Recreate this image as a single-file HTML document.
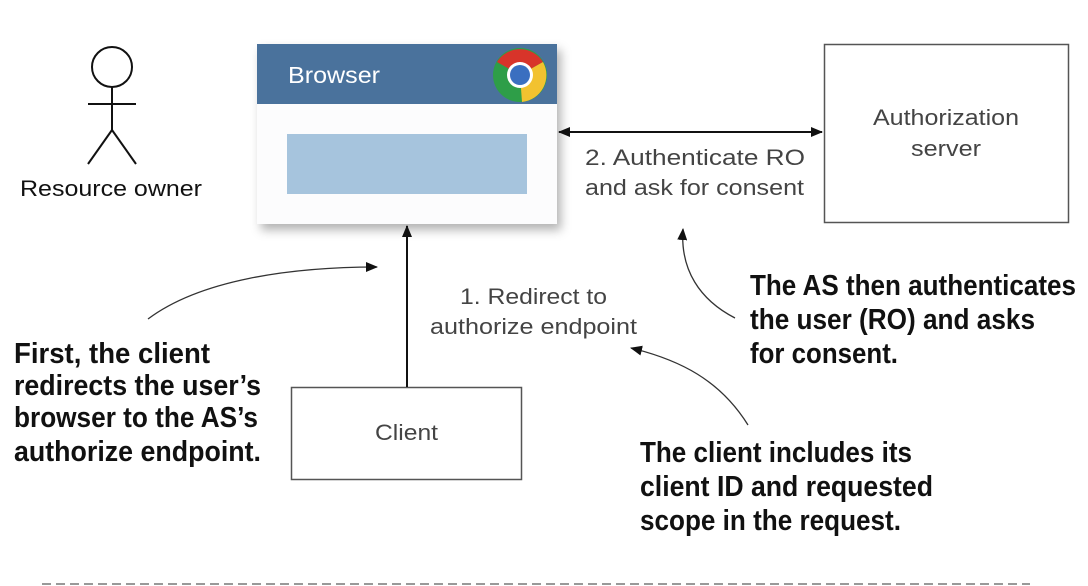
<!DOCTYPE html>
<html><head><meta charset="utf-8"><style>
html,body{margin:0;padding:0;background:#fff;}
svg{display:block;}
.n{font-family:"Liberation Sans",sans-serif;font-size:22px;fill:#444;}
.b{font-family:"Liberation Sans",sans-serif;font-size:29px;font-weight:bold;fill:#111;}
</style></head><body>
<svg width="1088" height="586" viewBox="0 0 1088 586" xmlns="http://www.w3.org/2000/svg">
<defs>
<marker id="a" markerWidth="12" markerHeight="10" refX="11" refY="5" orient="auto" markerUnits="userSpaceOnUse"><path d="M0,0 L12,5 L0,10 Z" fill="#111"/></marker>
<marker id="as" markerWidth="12" markerHeight="10" refX="1" refY="5" orient="auto" markerUnits="userSpaceOnUse"><path d="M12,0 L0,5 L12,10 Z" fill="#111"/></marker>
<filter id="sh" x="-10%" y="-10%" width="130%" height="130%"><feDropShadow dx="4" dy="6" stdDeviation="5" flood-color="#000" flood-opacity="0.3"/></filter>
</defs>
<g stroke="#111" stroke-width="2" fill="none">
<circle cx="112" cy="67" r="20"/>
<line x1="112" y1="87" x2="112" y2="130"/>
<line x1="88" y1="104" x2="136" y2="104"/>
<line x1="112" y1="130" x2="88" y2="164"/>
<line x1="112" y1="130" x2="136" y2="164"/>
</g>
<text class="n" x="20" y="196" style="fill:#111" textLength="182" lengthAdjust="spacingAndGlyphs">Resource owner</text>
<rect x="257" y="44" width="300" height="180" fill="#fcfcfd" filter="url(#sh)"/>
<rect x="257" y="44" width="300" height="60" fill="#4a729c"/>
<text x="288" y="83" font-family="Liberation Sans,sans-serif" font-size="23" fill="#fff" textLength="92" lengthAdjust="spacingAndGlyphs">Browser</text>
<rect x="287" y="134" width="240" height="60" fill="#a6c4dd"/>
<g transform="translate(520,75)">
<circle r="27" fill="#2e9e48"/>
<path d="M0,0 L-23,-13 A27,27 0 0 1 23,-13 Z" fill="#d8342a"/>
<path d="M0,0 L23,-13 A27,27 0 0 1 2,27 Z" fill="#f2c230"/>
<circle r="13" fill="#fff"/><circle r="10" fill="#3a6fc0"/>
</g>
<rect x="824.5" y="44.5" width="244" height="178" fill="#fff" stroke="#555" stroke-width="1.5"/>
<text class="n" x="873" y="125" textLength="146" lengthAdjust="spacingAndGlyphs">Authorization</text>
<text class="n" x="911" y="156" textLength="70" lengthAdjust="spacingAndGlyphs">server</text>
<rect x="291.5" y="387.5" width="230" height="92" fill="#fff" stroke="#555" stroke-width="1.5"/>
<text class="n" x="375" y="440" textLength="63" lengthAdjust="spacingAndGlyphs">Client</text>
<line x1="407" y1="387" x2="407" y2="226" stroke="#111" stroke-width="2" marker-end="url(#a)"/>
<line x1="559" y1="132" x2="822" y2="132" stroke="#111" stroke-width="2" marker-start="url(#as)" marker-end="url(#a)"/>
<text class="n" x="585" y="165" textLength="220" lengthAdjust="spacingAndGlyphs">2. Authenticate RO</text>
<text class="n" x="585" y="195" textLength="219" lengthAdjust="spacingAndGlyphs">and ask for consent</text>
<text class="n" x="460" y="304" textLength="147" lengthAdjust="spacingAndGlyphs">1. Redirect to</text>
<text class="n" x="430" y="334" textLength="207" lengthAdjust="spacingAndGlyphs">authorize endpoint</text>
<g stroke="#333" stroke-width="1.3" fill="none">
<path d="M148,319 C200,280 290,267 377,267" marker-end="url(#a)"/>
<path d="M735,318 C700,300 680,270 683,229" marker-end="url(#a)"/>
<path d="M748,425 C720,380 680,360 631,348" marker-end="url(#a)"/>
</g>
<text class="b" x="14" y="363" textLength="196" lengthAdjust="spacingAndGlyphs">First, the client</text>
<text class="b" x="14" y="395" textLength="247" lengthAdjust="spacingAndGlyphs">redirects the user’s</text>
<text class="b" x="14" y="427" textLength="244" lengthAdjust="spacingAndGlyphs">browser to the AS’s</text>
<text class="b" x="14" y="461" textLength="247" lengthAdjust="spacingAndGlyphs">authorize endpoint.</text>
<text class="b" x="750" y="295" textLength="326" lengthAdjust="spacingAndGlyphs">The AS then authenticates</text>
<text class="b" x="750" y="329" textLength="285" lengthAdjust="spacingAndGlyphs">the user (RO) and asks</text>
<text class="b" x="750" y="363" textLength="148" lengthAdjust="spacingAndGlyphs">for consent.</text>
<text class="b" x="640" y="462" textLength="272" lengthAdjust="spacingAndGlyphs">The client includes its</text>
<text class="b" x="640" y="496" textLength="293" lengthAdjust="spacingAndGlyphs">client ID and requested</text>
<text class="b" x="640" y="530" textLength="261" lengthAdjust="spacingAndGlyphs">scope in the request.</text>
<line x1="42" y1="584" x2="1030" y2="584" stroke="#999" stroke-width="2" stroke-dasharray="9,5"/>
</svg>
</body></html>
